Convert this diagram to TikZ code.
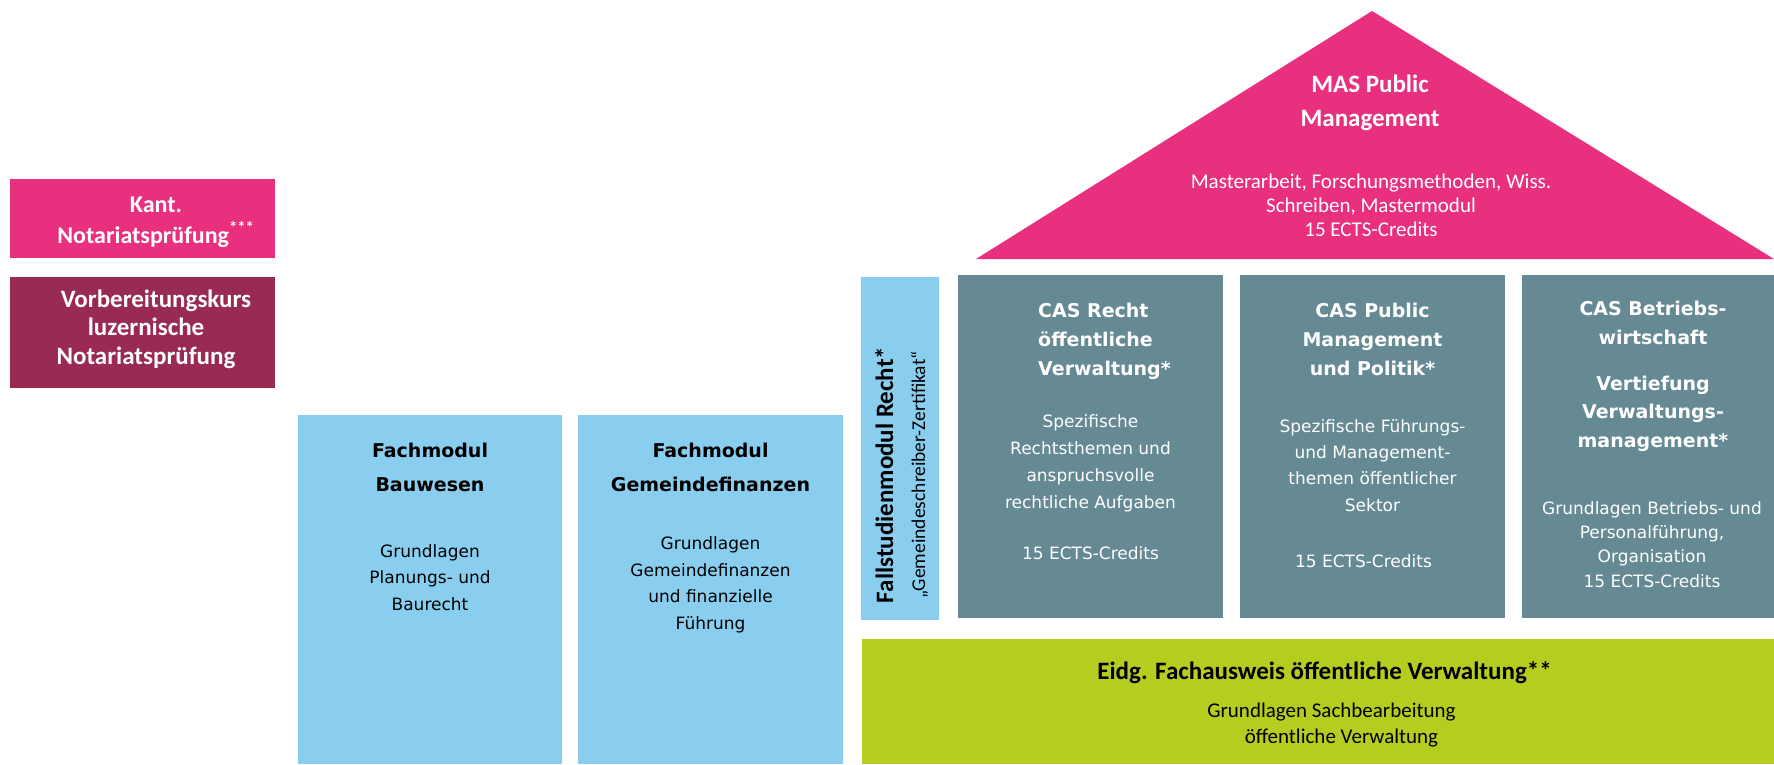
\documentclass[tikz,border=0pt]{standalone}
\usepackage{fontspec}
\setmainfont{DejaVu Sans}
\newfontfamily\calib{Carlito}
\usetikzlibrary{positioning}

\definecolor{mpink}{HTML}{E8307F}
\definecolor{mwine}{HTML}{982A54}
\definecolor{mblue}{HTML}{8ACEEF}
\definecolor{mteal}{HTML}{658A94}
\definecolor{mgreen}{HTML}{B6CC1E}

\tikzset{
  box/.style={rectangle, inner sep=0pt, outer sep=0pt, anchor=north west},
  txt/.style={anchor=base, align=center, inner sep=0pt},
  vhead/.style={txt, font=\bfseries\fontsize{19}{29}\selectfont},
  vbody/.style={txt, font=\fontsize{17}{26.5}\selectfont},
  chead/.style={txt, font=\calib\bfseries\fontsize{25}{31}\selectfont},
  cbody/.style={txt, font=\calib\fontsize{21}{24}\selectfont}
}

\begin{document}
\begin{tikzpicture}[x=1pt, y=-1pt]
    \useasboundingbox (0,0) rectangle (1774,764);

    % Boxes
    \node[box, fill=mpink, minimum width=265pt, minimum height=79pt] (kant) at (10,179) {};
    \node[box, fill=mwine, minimum width=265pt, minimum height=111pt, below=19pt of kant] (vorb) {};
    \node[box, fill=mblue, minimum width=264pt, minimum height=349pt] (bau) at (298,415) {};
    \node[box, fill=mblue, minimum width=265pt, minimum height=349pt, right=16pt of bau] (gem) {};
    \node[box, fill=mblue, minimum width=78pt, minimum height=343pt] (fall) at (861,277) {};
    \node[box, fill=mteal, minimum width=265pt, minimum height=343pt] (cas1) at (958,275) {};
    \node[box, fill=mteal, minimum width=265pt, minimum height=343pt, right=17pt of cas1] (cas2) {};
    \node[box, fill=mteal, minimum width=252pt, minimum height=343pt, right=17pt of cas2] (cas3) {};
    \node[box, fill=mgreen, minimum width=912pt, minimum height=125pt] (eidg) at (862,639) {};

    % Roof
    \coordinate (top) at (1372,11);
    \coordinate (roofL) at (976,259);
    \coordinate (roofR) at (1774,259);
    \fill[mpink] (roofL) -- (top) -- (roofR) -- cycle;

    % Texts (base = last line)
    \node[chead, font=\calib\bfseries\fontsize{24}{31}\selectfont, text=white] (kantT)
      at ([xshift=13.5pt, yshift=-64pt]kant.north) {Kant.\\Notariatsprüfung\textsuperscript{***}};
    \node[chead, font=\calib\bfseries\fontsize{25}{28.5}\selectfont, text=white] (vorbT)
      at ([xshift=3.5pt, yshift=-87pt]vorb.north) {\hspace*{20pt}Vorbereitungskurs\\luzernische\\Notariatsprüfung};

    \node[chead, font=\calib\bfseries\fontsize{25}{34}\selectfont, text=white] (masT)
      at ([xshift=-2pt, yshift=-115pt]top) {MAS Public\\Management};
    \node[cbody, text=white] (masU)
      at ([xshift=-1pt, yshift=-225pt]top) {Masterarbeit, Forschungsmethoden, Wiss.\\Schreiben, Mastermodul\\15 ECTS-Credits};

    \node[vhead, font=\bfseries\fontsize{19}{34}\selectfont] (bauT)
      at ([yshift=-76pt]bau.north) {Fachmodul\\Bauwesen};
    \node[vbody] (bauU) at ([yshift=-195pt]bau.north) {Grundlagen\\Planungs- und\\Baurecht};
    \node[vhead, font=\bfseries\fontsize{19}{34}\selectfont] (gemT)
      at ([yshift=-76pt]gem.north) {Fachmodul\\Gemeindefinanzen};
    \node[vbody] (gemU) at ([yshift=-214pt]gem.north) {Grundlagen\\Gemeindefinanzen\\und finanzielle\\Führung};

    \node[chead, font=\calib\bfseries\fontsize{25}{32}\selectfont, rotate=90] (fallT)
      at ([xshift=25pt, yshift=-26.5pt]fall.center)
      {Fallstudienmodul Recht*\\{\mdseries\fontsize{19.5}{32}\selectfont „Gemeindeschreiber-Zertifikat“}};

    \node[vhead, align=left, anchor=base west, text=white] (cas1T)
      at ([xshift=80pt, yshift=-100pt]cas1.north west) {CAS Recht\\öffentliche\\Verwaltung*};
    \node[vbody, font=\fontsize{17}{26.7}\selectfont, text=white] (cas1U)
      at ([yshift=-284pt]cas1.north) {Spezifische\\Rechtsthemen und\\anspruchsvolle\\rechtliche Aufgaben\\[24.3pt]15 ECTS-Credits};

    \node[vhead, text=white] (cas2T)
      at ([yshift=-100pt]cas2.north) {CAS Public\\Management\\und Politik*};
    \node[vbody, font=\fontsize{17}{26.3}\selectfont, text=white] (cas2U)
      at ([yshift=-292pt]cas2.north) {Spezifische Führungs-\\und Management-\\themen öffentlicher\\Sektor\\[29.7pt]15 ECTS-Credits\hspace*{18pt}};

    \node[vhead, font=\bfseries\fontsize{19}{28.5}\selectfont, text=white] (cas3T)
      at ([xshift=5pt, yshift=-172pt]cas3.north) {CAS Betriebs-\\wirtschaft\\[17.5pt]Vertiefung\\Verwaltungs-\\management*};
    \node[vbody, font=\fontsize{17}{24.3}\selectfont, text=white] (cas3U)
      at ([xshift=4pt, yshift=-312pt]cas3.north) {Grundlagen Betriebs- und\\Personalführung,\\Organisation\\15 ECTS-Credits};

    \node[chead] (eidgT) at ([xshift=6.5pt, yshift=-40pt]eidg.north) {Eidg. Fachausweis öffentliche Verwaltung**};
    \node[cbody, font=\calib\fontsize{21}{26}\selectfont] (eidgU)
      at ([xshift=13.5pt, yshift=-104pt]eidg.north) {Grundlagen Sachbearbeitung\\\hspace*{20pt}öffentliche Verwaltung};
\end{tikzpicture}
\end{document}
